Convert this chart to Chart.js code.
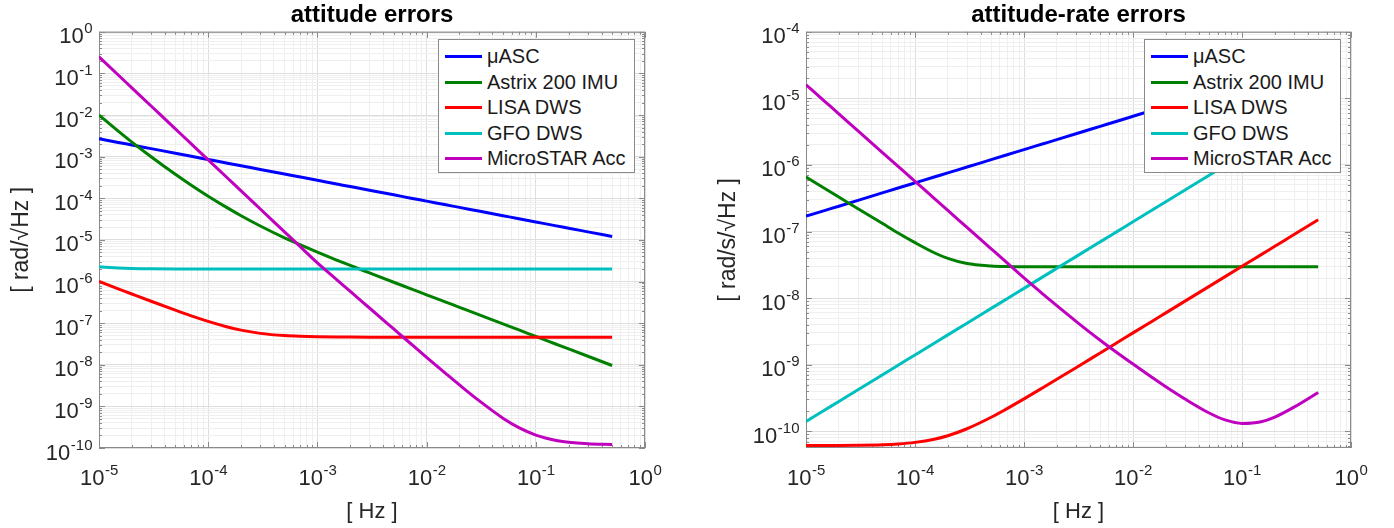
<!DOCTYPE html>
<html>
<head>
<meta charset="utf-8">
<title>attitude errors</title>
<script src="https://cdn.jsdelivr.net/npm/chart.js@4.4.1/dist/chart.umd.min.js"></script>
<style>
  html, body { margin: 0; padding: 0; background: #fff; }
  #wrap { position: relative; width: 1394px; height: 528px; overflow: hidden; }
  .panel { position: absolute; top: 0; width: 697px; height: 528px; }
  .legend {
    position: absolute; box-sizing: border-box; width: 197px; height: 134px;
    background: #fff; border: 1px solid #8a8a8a; padding: 4px 0 0 6px;
    font: 20px "Liberation Sans", Arial, Helvetica, sans-serif; color: #1a1a1a;
  }
  .legend .row { height: 25.6px; display: flex; align-items: center; white-space: nowrap; }
  .legend .sw { display: inline-block; width: 37px; height: 3px; margin-right: 5px; }
</style>
</head>
<body>
<div id="wrap">
  <div class="panel" style="left:0"><canvas id="attChart"></canvas><div class="legend" id="attLegend"></div></div>
  <div class="panel" style="left:697px"><canvas id="rateChart"></canvas><div class="legend" id="rateLegend"></div></div>
</div>
<script>
    // frequency grid [Hz]
    const freq = [1e-5, 1.5e-5, 2e-5, 3e-5, 5e-5, 7e-5,
                  1e-4, 1.5e-4, 2e-4, 3e-4, 5e-4, 7e-4,
                  1e-3, 1.5e-3, 2e-3, 3e-3, 5e-3, 7e-3,
                  1e-2, 1.5e-2, 2e-2, 3e-2, 5e-2, 7e-2,
                  1e-1, 1.5e-1, 2e-1, 3e-1, 5e-1];

    const seriesNames = ['μASC', 'Astrix 200 IMU', 'LISA DWS', 'GFO DWS', 'MicroSTAR Acc'];
    const seriesColors = ['#0000ff', '#008000', '#ff0000', '#00bfbf', '#bf00bf'];

    // attitude errors [rad/sqrt(Hz)]
    const attAsc = [2.7e-3, 2.2e-3, 1.91e-3, 1.56e-3, 1.21e-3, 1.02e-3,
                    8.54e-4, 6.97e-4, 6.04e-4, 4.93e-4, 3.82e-4, 3.23e-4,
                    2.7e-4, 2.2e-4, 1.91e-4, 1.56e-4, 1.21e-4, 1.02e-4,
                    8.54e-5, 6.97e-5, 6.04e-5, 4.93e-5, 3.82e-5, 3.23e-5,
                    2.7e-5, 2.2e-5, 1.91e-5, 1.56e-5, 1.21e-5];
    const attAstrix = [1e-2, 4.1e-3, 2.24e-3, 9.96e-4, 3.77e-4, 2.06e-4,
                       1.12e-4, 5.87e-5, 3.81e-5, 2.16e-5, 1.12e-5, 7.55e-6,
                       5.06e-6, 3.28e-6, 2.43e-6, 1.61e-6, 9.6e-7, 6.86e-7,
                       4.8e-7, 3.2e-7, 2.4e-7, 1.6e-7, 9.6e-8, 6.86e-8,
                       4.8e-8, 3.2e-8, 2.4e-8, 1.6e-8, 9.6e-9];
    const attLisa = [1.0e-6, 6.69e-7, 5.02e-7, 3.36e-7, 2.05e-7, 1.5e-7,
                     1.1e-7, 8.1e-8, 6.79e-8, 5.68e-8, 5.02e-8, 4.82e-8,
                     4.71e-8, 4.65e-8, 4.63e-8, 4.61e-8, 4.6e-8, 4.6e-8,
                     4.6e-8, 4.6e-8, 4.6e-8, 4.6e-8, 4.6e-8, 4.6e-8,
                     4.6e-8, 4.6e-8, 4.6e-8, 4.6e-8, 4.6e-8];
    const attGfo = [2.25e-6, 2.12e-6, 2.06e-6, 2.02e-6, 2.0e-6, 2.0e-6,
                    2.0e-6, 2.0e-6, 2.0e-6, 2.0e-6, 2.0e-6, 2.0e-6,
                    2.0e-6, 2.0e-6, 2.0e-6, 2.0e-6, 2.0e-6, 2.0e-6,
                    2.0e-6, 2.0e-6, 2.0e-6, 2.0e-6, 2.0e-6, 2.0e-6,
                    2.0e-6, 2.0e-6, 2.0e-6, 2.0e-6, 2.0e-6];
    const attMicro = [2.5e-1, 9.17e-2, 4.5e-2, 1.65e-2, 4.66e-3, 2.03e-3,
                      8.37e-4, 3.07e-4, 1.51e-4, 5.52e-5, 1.56e-5, 6.78e-6,
                      2.8e-6, 1.11e-6, 5.8e-7, 2.31e-7, 7.25e-8, 3.38e-8,
                      1.51e-8, 6.14e-9, 3.27e-9, 1.39e-9, 5.21e-10, 3.08e-10,
                      2.04e-10, 1.54e-10, 1.38e-10, 1.27e-10, 1.22e-10];

    // attitude-rate errors [rad/s/sqrt(Hz)]
    const rateAsc = [1.7e-7, 2.08e-7, 2.4e-7, 2.94e-7, 3.8e-7, 4.5e-7,
                     5.38e-7, 6.59e-7, 7.6e-7, 9.31e-7, 1.2e-6, 1.42e-6,
                     1.7e-6, 2.08e-6, 2.4e-6, 2.94e-6, 3.8e-6, 4.5e-6,
                     5.38e-6, 6.59e-6, 7.6e-6, 9.31e-6, 1.2e-5, 1.42e-5,
                     1.7e-5, 2.08e-5, 2.4e-5, 2.94e-5, 3.8e-5];
    const rateAstrix = [6.6e-7, 4.4e-7, 3.3e-7, 2.2e-7, 1.33e-7, 9.5e-8,
                        6.8e-8, 4.8e-8, 3.95e-8, 3.3e-8, 3.04e-8, 2.98e-8,
                        2.96e-8, 2.95e-8, 2.95e-8, 2.95e-8, 2.95e-8, 2.95e-8,
                        2.95e-8, 2.95e-8, 2.95e-8, 2.95e-8, 2.95e-8, 2.95e-8,
                        2.95e-8, 2.95e-8, 2.95e-8, 2.95e-8, 2.95e-8];
    const rateLisa = [6.1e-11, 6.12e-11, 6.13e-11, 6.17e-11, 6.28e-11, 6.45e-11,
                      6.8e-11, 7.58e-11, 8.56e-11, 1.09e-10, 1.62e-10, 2.19e-10,
                      3.06e-10, 4.54e-10, 6.03e-10, 9e-10, 1.5e-9, 2.1e-9,
                      3e-9, 4.5e-9, 6e-9, 9e-9, 1.5e-8, 2.1e-8,
                      3e-8, 4.5e-8, 6e-8, 9e-8, 1.5e-7];
    const rateGfo = [1.4e-10, 2.1e-10, 2.8e-10, 4.2e-10, 7e-10, 9.8e-10,
                     1.4e-9, 2.1e-9, 2.8e-9, 4.2e-9, 7e-9, 9.8e-9,
                     1.4e-8, 2.1e-8, 2.8e-8, 4.2e-8, 7e-8, 9.8e-8,
                     1.4e-7, 2.1e-7, 2.8e-7, 4.2e-7, 7e-7, 9.8e-7,
                     1.4e-6, 2.1e-6, 2.8e-6, 4.2e-6, 7e-6];
    const rateMicro = [1.6e-5, 8.89e-6, 5.86e-6, 3.25e-6, 1.55e-6, 9.52e-7,
                       5.68e-7, 3.15e-7, 2.08e-7, 1.15e-7, 5.5e-8, 3.38e-8,
                       2.01e-8, 1.14e-8, 7.69e-9, 4.48e-9, 2.33e-9, 1.55e-9,
                       1.02e-9, 6.4e-10, 4.66e-10, 3.05e-10, 1.88e-10, 1.48e-10,
                       1.31e-10, 1.39e-10, 1.63e-10, 2.3e-10, 3.83e-10];

    const FONT = '"Liberation Sans", Arial, Helvetica, sans-serif';
    const TEXT = '#262626';

    function isDecade(v) {
        const l = Math.log10(v);
        return Math.abs(l - Math.round(l)) < 1e-9;
    }

    // tick positions 1..9 x 10^n inside [min, max]
    function logTicks(min, max) {
        const out = [];
        for (let e = Math.floor(Math.log10(min)); e <= Math.ceil(Math.log10(max)); e++) {
            for (let m = 1; m < 10; m++) {
                const v = m * Math.pow(10, e);
                if (v >= min * 0.999 && v <= max * 1.001) out.push(v);
            }
        }
        return out;
    }

    // "10" with a raised exponent, anchored at x (center or right), y = baseline
    function drawPow(ctx, v, x, y, align) {
        const e = String(Math.round(Math.log10(v)));
        ctx.font = '22px ' + FONT;
        const w1 = ctx.measureText('10').width;
        ctx.font = '15px ' + FONT;
        const w2 = ctx.measureText(e).width;
        const x0 = align === 'center' ? x - (w1 + w2) / 2 : x - (w1 + w2);
        ctx.font = '22px ' + FONT;
        ctx.fillText('10', x0, y);
        ctx.font = '15px ' + FONT;
        ctx.fillText(e, x0 + w1 + 0.5, y - 10);
    }

    // MATLAB style box, inward tick marks and power-of-ten labels
    const boxPlugin = {
        id: 'box',
        beforeDatasetsDraw(chart) {
            const {ctx, chartArea: a, scales: {x, y}} = chart;
            ctx.save();
            ctx.strokeStyle = '#8a8a8a';
            ctx.lineWidth = 1;
            ctx.strokeRect(a.left + 0.5, a.top + 0.5, a.width - 1, a.height - 1);
            ctx.beginPath();
            x.ticks.forEach(t => {
                const px = Math.round(x.getPixelForValue(t.value)) + 0.5;
                const len = isDecade(t.value) ? 6 : 3;
                ctx.moveTo(px, a.bottom); ctx.lineTo(px, a.bottom - len);
                ctx.moveTo(px, a.top); ctx.lineTo(px, a.top + len);
            });
            y.ticks.forEach(t => {
                const py = Math.round(y.getPixelForValue(t.value)) + 0.5;
                const len = isDecade(t.value) ? 6 : 3;
                ctx.moveTo(a.left, py); ctx.lineTo(a.left + len, py);
                ctx.moveTo(a.right, py); ctx.lineTo(a.right - len, py);
            });
            ctx.stroke();
            ctx.restore();
        },
        afterDraw(chart) {
            const {ctx, chartArea: a, scales: {x, y}} = chart;
            ctx.save();
            ctx.fillStyle = TEXT;
            ctx.textAlign = 'left';
            ctx.textBaseline = 'alphabetic';
            x.ticks.filter(t => isDecade(t.value)).forEach(t => {
                drawPow(ctx, t.value, x.getPixelForValue(t.value), a.bottom + 37, 'center');
            });
            y.ticks.filter(t => isDecade(t.value)).forEach(t => {
                drawPow(ctx, t.value, a.left - 7, y.getPixelForValue(t.value) + 11.5, 'right');
            });
            ctx.restore();
        }
    };

    // place the html legend in the upper right corner of the plot area
    const legendPlugin = {
        id: 'htmlLegend',
        afterLayout(chart, args, opts) {
            const el = document.getElementById(opts.containerID);
            const a = chart.chartArea;
            el.style.left = (a.right - 10 - 197) + 'px';
            el.style.top = (a.top + 7) + 'px';
            el.innerHTML = '';
            chart.data.datasets.forEach(ds => {
                const row = document.createElement('div');
                row.className = 'row';
                const sw = document.createElement('span');
                sw.className = 'sw';
                sw.style.background = ds.borderColor;
                row.appendChild(sw);
                row.appendChild(document.createTextNode(ds.label));
                el.appendChild(row);
            });
        }
    };

    function gridColor(ctx) {
        if (!ctx.tick) return '#e6e6e6';
        return isDecade(ctx.tick.value) ? '#dedede' : '#efefef';
    }

    function makeChart(canvasId, legendId, title, yTitle, yMin, yMax, series, yWidth, yTitlePad, padRight) {
        return new Chart(document.getElementById(canvasId).getContext('2d'), {
            type: 'line',
            data: {
                datasets: series.map((vals, i) => ({
                    label: seriesNames[i],
                    data: freq.map((f, j) => ({x: f, y: vals[j]})),
                    borderColor: seriesColors[i],
                    backgroundColor: seriesColors[i],
                    borderWidth: 3,
                    pointRadius: 0,
                    cubicInterpolationMode: 'monotone',
                    order: series.length - i
                }))
            },
            options: {
                responsive: true,
                maintainAspectRatio: false,
                animation: false,
                layout: { padding: { left: 0, right: padRight, top: 0, bottom: 0 } },
                plugins: {
                    legend: { display: false },
                    tooltip: { enabled: false },
                    title: {
                        display: true,
                        text: title,
                        fullSize: false,
                        color: '#000',
                        font: { family: FONT, size: 24, weight: 'bold' },
                        padding: { top: 1, bottom: 2 }
                    },
                    htmlLegend: { containerID: legendId }
                },
                scales: {
                    x: {
                        type: 'logarithmic',
                        min: 1e-5,
                        max: 1,
                        afterBuildTicks: ax => { ax.ticks = logTicks(1e-5, 1).map(v => ({value: v})); },
                        afterFit: ax => { ax.height = 80; },
                        grid: { color: gridColor, drawTicks: false },
                        border: { display: false },
                        ticks: { autoSkip: false, maxRotation: 0, minRotation: 0, callback: () => '' },
                        title: {
                            display: true, text: '[ Hz ]', color: TEXT,
                            font: { family: FONT, size: 22 },
                            padding: { top: 0, bottom: 3 }
                        }
                    },
                    y: {
                        type: 'logarithmic',
                        min: yMin,
                        max: yMax,
                        afterBuildTicks: ax => { ax.ticks = logTicks(yMin, yMax).map(v => ({value: v})); },
                        afterFit: ax => { ax.width = yWidth; },
                        grid: { color: gridColor, drawTicks: false },
                        border: { display: false },
                        ticks: { autoSkip: false, callback: () => '' },
                        title: {
                            display: true, text: yTitle, color: TEXT,
                            font: { family: FONT, size: 23 },
                            padding: { top: yTitlePad, bottom: 0 }
                        }
                    }
                }
            },
            plugins: [boxPlugin, legendPlugin]
        });
    }

    makeChart('attChart', 'attLegend', 'attitude errors', '[ rad/√Hz ]', 1e-10, 1,
              [attAsc, attAstrix, attLisa, attGfo, attMicro], 99, 8, 52);
    makeChart('rateChart', 'rateLegend', 'attitude-rate errors', '[ rad/s/√Hz ]', 5.6e-11, 1e-4,
              [rateAsc, rateAstrix, rateLisa, rateGfo, rateMicro], 109, 18, 43);
</script>
</body>
</html>
